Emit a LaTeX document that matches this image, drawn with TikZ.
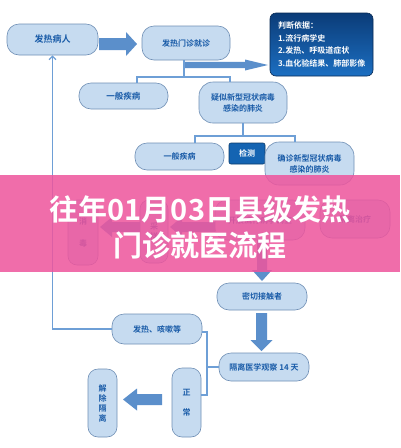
\documentclass[tikz,border=0pt]{standalone}
\usepackage{fontspec}
\newfontfamily\cjk{Noto Sans CJK SC Bold}
\usetikzlibrary{calc,arrows.meta}
\definecolor{nodefill}{HTML}{C6DBF0}
\definecolor{nodeline}{HTML}{6F8FB5}
\definecolor{txt}{HTML}{1A5CA8}
\definecolor{conn}{HTML}{6E9FD6}
\definecolor{fat}{HTML}{5B8FCB}
\definecolor{banner}{HTML}{EE559D}
\definecolor{judgetop}{HTML}{0B3C78}
\definecolor{judgebot}{HTML}{1C6FC2}
\definecolor{testfill}{HTML}{1464B2}
\newcommand\fatarr[5]{%
  \fill[fat] ($#1!#3pt!90:#2$) -- ($($#2!#5pt!#1$)!#3pt!90:#2$) -- ($($#2!#5pt!#1$)!#4pt!90:#2$) -- #2
    -- ($($#2!#5pt!#1$)!#4pt!-90:#2$) -- ($($#2!#5pt!#1$)!#3pt!-90:#2$) -- ($#1!#3pt!-90:#2$) -- cycle;}
\begin{document}
\begin{tikzpicture}[x=1pt,y=-1pt,
  box/.style={draw=nodeline, line width=0.6pt, fill=nodefill, rounded corners=#1,
    text=txt, font=\cjk\fontsize{8}{11}\selectfont, align=center, inner sep=0pt},
  box/.default=12pt,
  conline/.style={draw=conn, line width=1.3pt}]
\useasboundingbox (0,0) rectangle (400,448);
\fill[white] (0,0) rectangle (400,448);

% nodes
\node[box, minimum width=91pt, minimum height=31pt, font=\cjk\fontsize{9}{11}\selectfont] (n1) at (52.5,39.5) {发热病人};
\node[box, minimum width=88pt, minimum height=34pt] (n2) at (186,43) {发热门诊就诊};
\node[draw=judgetop!70!black, line width=0.6pt, top color=judgetop, bottom color=judgebot,
  rounded corners=6pt, minimum width=103pt, minimum height=63pt, text width=87pt,
  inner sep=0pt, align=left, text=white, font=\cjk\fontsize{8}{12.5}\selectfont] (judge) at (321.5,44.5)
  {判断依据：\\1.流行病学史\\2.发热、呼吸道症状\\3.血化验结果、肺部影像};
\node[box, minimum width=89pt, minimum height=26pt, font=\cjk\fontsize{8.5}{11}\selectfont] (n3) at (123.5,96) {一般疾病};
\node[box=14pt, minimum width=88pt, minimum height=41pt] (n4) at (243,102.5) {疑似新型冠状病毒\\感染的肺炎};
\node[box, minimum width=89pt, minimum height=27pt] (n5) at (179.5,156.5) {一般疾病};
\node[draw=testfill!60!black, line width=0.6pt, fill=testfill, rounded corners=2pt,
  minimum width=36pt, minimum height=21pt, inner sep=0pt, text=white,
  font=\cjk\fontsize{8}{10}\selectfont] (test) at (247,153.5) {检测};
\node[box=14pt, minimum width=89pt, minimum height=43pt] (n6) at (309.5,163.5) {确诊新型冠状病毒\\感染的肺炎};

% nodes under the banner
\node[box=9pt, minimum width=30pt, minimum height=65pt, font=\cjk\fontsize{8}{22}\selectfont] (h1) at (83,232.5) {消\\毒};
\node[box=9pt, minimum width=28pt, minimum height=63pt, font=\cjk\fontsize{8}{10}\selectfont] (h2) at (154,231.5) {采\\样};
\node[box, minimum width=90pt, minimum height=40pt] (h3) at (260,220) {开展流行病学调查};
\node[box, minimum width=70pt, minimum height=38pt] (h4) at (355,219) {隔离治疗};

\node[box, minimum width=90pt, minimum height=27pt] (n7) at (262,296.5) {密切接触者};
\node[box, minimum width=90pt, minimum height=28pt] (n8) at (264,367) {隔离医学观察 14 天};
\node[box, minimum width=90pt, minimum height=30pt] (n9) at (157,329) {发热、咳嗽等};
\node[box=10pt, minimum width=29pt, minimum height=69pt, font=\cjk\fontsize{8}{20}\selectfont] (n10) at (186.5,402.5) {正\\常};
\node[box=10pt, minimum width=29pt, minimum height=68pt, font=\cjk\fontsize{8}{10}\selectfont] (n11) at (102.5,403) {解\\除\\隔\\离};

% thin connectors
\coordinate (t1) at (184,77);
\draw[conline] (n2.south -| t1) -- (t1);
\draw[conline] (n3.north -| 137,0) |- (t1) -| (n4.north -| 230,0);
\coordinate (t2) at (243,136);
\draw[conline] (n4.south) -- (t2);
\draw[conline] (n5.north -| 195,0) |- (t2) -| (n6.north -| 295,0);
\draw[conline, -{Straight Barb[length=3.5pt,width=7pt]}] (n9.west) -| (n1.south);
\coordinate (b1) at (207,332);
\coordinate (b2) at (207,395);
\draw[conline] (n9.east |- b1) -- (b1) -- (b2) -- (n10.east |- b2);
\draw[conline] (n8.west) -- (n8.west -| b1);

% fat arrows
\coordinate (a1s) at (99,44);   \coordinate (a1e) at (137,44);
\coordinate (a2s) at (185,65);  \coordinate (a2e) at (268,65);
\coordinate (a3s) at (140,227); \coordinate (a3e) at (100,227);
\coordinate (a4s) at (215,227); \coordinate (a4e) at (170,227);
\coordinate (a5s) at (262,240); \coordinate (a5e) at (262,281);
\coordinate (a6s) at (261.5,313); \coordinate (a6e) at (261.5,351);
\coordinate (a7s) at (162,399.5); \coordinate (a7e) at (123,399.5);
\fatarr{(a1s)}{(a1e)}{6}{12}{11}
\fatarr{(a2s)}{(a2e)}{3.2}{5.5}{23}
\fatarr{(a3s)}{(a3e)}{5}{10}{12}
\fatarr{(a4s)}{(a4e)}{5}{10}{12}
\fatarr{(a5s)}{(a5e)}{5}{10}{11}
\fatarr{(a6s)}{(a6e)}{5.5}{11}{11}
\fatarr{(a7s)}{(a7e)}{5.5}{11}{14}

% banner
\fill[banner, opacity=0.86] (0,175) rectangle (400,272);
\node[text=white, align=center, inner sep=0pt, font=\cjk\fontsize{29}{36}\selectfont] (title) at (200,227)
  {往年01月03日县级发热\\门诊就医流程};
\end{tikzpicture}
\end{document}
